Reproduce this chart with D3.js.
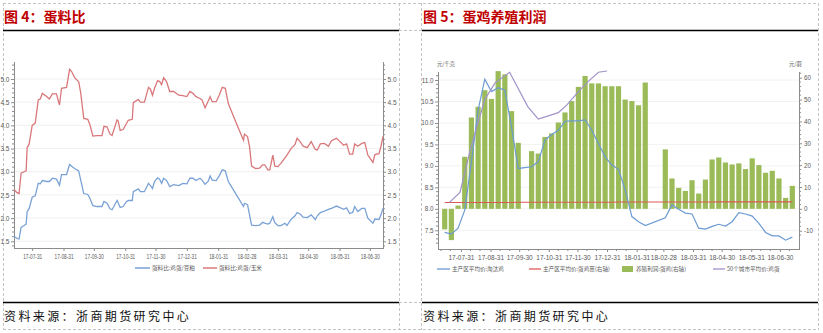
<!DOCTYPE html>
<html><head><meta charset="utf-8">
<script src="https://cdn.jsdelivr.net/npm/d3@7"></script>
<style>
html,body{margin:0;padding:0;background:#fff;}
svg{display:block;}
</style></head>
<body>
<svg id="c" width="823" height="333"></svg>
<script>
// ---------- 图4 蛋料比 ----------
const ratioDates = ["2017-07-13","2017-07-16","2017-07-18","2017-07-20","2017-07-23","2017-07-25","2017-07-26","2017-07-28","2017-07-31","2017-08-03",
"2017-08-06","2017-08-08","2017-08-10","2017-08-14","2017-08-17","2017-08-20","2017-08-24","2017-08-27","2017-08-29","2017-09-03",
"2017-09-06","2017-09-08","2017-09-11","2017-09-15","2017-09-17","2017-09-20","2017-09-24","2017-09-26","2017-09-29","2017-10-03",
"2017-10-08","2017-10-10","2017-10-13","2017-10-16","2017-10-18","2017-10-23","2017-10-24","2017-10-26","2017-10-29","2017-11-01",
"2017-11-03","2017-11-07","2017-11-08","2017-11-13","2017-11-15","2017-11-19","2017-11-23","2017-11-25","2017-11-27","2017-11-29",
"2017-12-02","2017-12-04","2017-12-06","2017-12-08","2017-12-11","2017-12-14","2017-12-18","2017-12-23","2017-12-27","2017-12-31",
"2018-01-03","2018-01-06","2018-01-09","2018-01-13","2018-01-15","2018-01-18","2018-01-21","2018-01-23","2018-01-25","2018-01-29",
"2018-02-01","2018-02-04","2018-02-07","2018-02-10","2018-02-15","2018-02-20","2018-02-25","2018-02-26","2018-03-01","2018-03-03",
"2018-03-05","2018-03-09","2018-03-13","2018-03-16","2018-03-18","2018-03-21","2018-03-23","2018-03-26","2018-03-28","2018-03-31",
"2018-04-03","2018-04-07","2018-04-09","2018-04-13","2018-04-17","2018-04-19","2018-04-22","2018-04-25","2018-04-29","2018-05-03",
"2018-05-07","2018-05-09","2018-05-12","2018-05-16","2018-05-20","2018-05-23","2018-05-28","2018-05-31","2018-06-04","2018-06-07",
"2018-06-10","2018-06-13","2018-06-15","2018-06-18","2018-06-22","2018-06-25","2018-06-28","2018-07-03","2018-07-05","2018-07-09",
"2018-07-11","2018-07-13"];

// 蛋料比:鸡蛋/豆粕
const eggMeal = [1.61,1.56,1.55,1.80,1.84,1.87,2.14,2.21,2.45,2.48,
2.75,2.74,2.81,2.79,2.79,2.86,2.84,2.71,2.94,2.94,
3.16,3.12,3.07,3.02,2.82,2.53,2.51,2.43,2.27,2.25,
2.25,2.36,2.32,2.20,2.18,2.38,2.33,2.23,2.25,2.35,
2.38,2.38,2.57,2.63,2.57,2.57,2.75,2.70,2.64,2.79,
2.87,2.84,2.75,2.86,2.81,2.68,2.72,2.70,2.75,2.74,
2.86,2.86,2.81,2.86,2.82,2.73,2.79,2.91,2.82,2.81,
2.91,3.04,3.02,2.79,2.61,2.43,2.25,2.32,2.29,2.07,
1.85,1.84,1.85,1.91,1.89,1.87,1.89,2.03,1.90,1.84,
1.84,1.89,1.84,1.97,2.05,2.12,2.09,2.02,2.01,2.07,
1.97,2.05,2.12,2.15,2.19,2.21,2.26,2.23,2.19,2.22,
2.10,2.12,2.25,2.14,2.21,2.21,2.00,1.89,1.98,1.97,
2.07,2.21];

// 蛋料比:鸡蛋/玉米
const eggCorn = [2.62,2.55,2.53,2.97,3.00,3.02,3.52,3.60,4.00,4.05,
4.55,4.57,4.69,4.63,4.57,4.68,4.68,4.44,4.80,4.82,
5.21,5.16,5.03,4.94,4.70,4.15,4.13,4.02,3.77,3.78,
3.78,3.98,3.97,3.81,3.78,4.12,4.10,3.89,3.91,4.03,
4.11,4.13,4.49,4.56,4.50,4.50,4.82,4.78,4.65,4.80,
4.96,4.95,4.88,5.03,4.94,4.73,4.73,4.65,4.64,4.62,
4.73,4.69,4.62,4.58,4.55,4.38,4.52,4.62,4.51,4.51,
4.65,4.82,4.80,4.47,4.20,3.94,3.68,3.81,3.76,3.54,
3.12,3.07,3.08,3.15,3.15,3.04,3.04,3.36,3.12,3.11,
3.18,3.30,3.36,3.50,3.59,3.72,3.65,3.55,3.52,3.65,
3.48,3.47,3.60,3.61,3.55,3.67,3.72,3.66,3.57,3.60,
3.38,3.38,3.60,3.55,3.61,3.63,3.36,3.20,3.37,3.39,
3.55,3.76];

const monthTicks = ["2017-07-31","2017-08-31","2017-09-30","2017-10-31","2017-11-30","2017-12-31",
"2018-01-31","2018-02-28","2018-03-31","2018-04-30","2018-05-31","2018-06-30"];
const ratioTicks = [1.5,2.0,2.5,3.0,3.5,4.0,4.5,5.0];

// ---------- 图5 蛋鸡养殖利润 (weekly, Fridays) ----------
const weekDates = ["2017-07-14","2017-07-21","2017-07-28","2017-08-04","2017-08-11","2017-08-18","2017-08-25",
"2017-09-01","2017-09-08","2017-09-15","2017-09-22","2017-09-29","2017-10-06","2017-10-13","2017-10-20","2017-10-27",
"2017-11-03","2017-11-10","2017-11-17","2017-11-24","2017-12-01","2017-12-08","2017-12-15","2017-12-22","2017-12-29",
"2018-01-05","2018-01-12","2018-01-19","2018-01-26","2018-02-02","2018-02-09","2018-02-16","2018-02-23",
"2018-03-02","2018-03-09","2018-03-16","2018-03-23","2018-03-30","2018-04-06","2018-04-13","2018-04-20","2018-04-27",
"2018-05-04","2018-05-11","2018-05-18","2018-05-25","2018-06-01","2018-06-08","2018-06-15","2018-06-22","2018-06-29",
"2018-07-06","2018-07-13"];

// 养殖利润:蛋鸡(右轴) 元/羽
const layerProfit = [-9.4,-14.3,1.5,23.8,41.8,46.7,54.3,50.3,63.0,61.5,44.7,30.2,null,
26.4,25.3,32.9,34.5,39.5,44.1,49.3,55.8,60.8,57.4,57.4,56.1,
56.1,56.1,50.0,49.3,47.4,57.8,null,null,
27.2,13.9,9.6,8.2,13.1,7.0,13.4,22.6,23.5,
21.2,20.3,20.8,18.2,23.1,20.0,16.5,17.4,13.9,
5.0,10.5];

// 主产区平均价:淘汰鸡 元/千克
const cullHen = [7.45,7.41,7.55,7.97,9.10,10.30,11.02,10.73,10.82,10.76,9.90,8.94,null,
8.98,9.10,9.60,9.73,9.83,10.04,10.05,10.05,10.07,9.83,9.52,9.21,
9.02,8.92,8.44,7.82,7.70,7.61,null,null,
7.79,8.09,7.99,7.90,7.88,7.55,7.53,7.59,7.64,
7.60,7.70,7.91,7.88,7.83,7.66,7.45,7.37,7.37,
7.27,7.34];

// 主产区平均价:蛋鸡苗(右轴) 元/羽
const chickPrice = [2.9,2.9,2.9,2.9,2.9,2.9,2.9,2.9,2.9,2.9,2.9,3.0,3.0,
3.0,3.0,3.0,3.0,3.0,3.0,3.0,3.0,3.0,3.0,3.0,3.0,
3.0,3.1,3.1,3.1,3.1,3.1,3.1,3.1,
3.1,3.1,3.1,3.1,3.1,3.1,3.1,3.1,3.2,
3.2,3.2,3.2,3.2,3.2,3.2,3.2,3.2,3.2,
3.2,3.2];

// 50个城市平均价:鸡蛋 元/千克
const cityEggDates = ["2017-07-19","2017-07-30","2017-08-10","2017-08-25","2017-09-05","2017-09-20","2017-10-09",
"2017-10-20","2017-11-10","2017-11-19","2017-12-01","2017-12-12","2017-12-22","2017-12-31"];
const cityEgg = [8.15,8.38,9.39,10.55,10.94,11.18,10.38,10.09,10.24,10.42,10.73,10.98,11.18,11.21];

const priceTicks = [7.5,8.0,8.5,9.0,9.5,10.0,10.5,11.0];
const profitTicks = [-10,0,10,20,30,40,50,60];

// ---------- drawing ----------
const parse = d3.timeParse("%Y-%m-%d");
const svg = d3.select("#c");
const NUM = "'Liberation Sans', Arial, sans-serif";
const CJK = "'Noto Sans CJK SC', 'Noto Sans', sans-serif";
const AXIS = "#8c8c8c", LABEL = "#595959";

function line(g, x1, y1, x2, y2, stroke, w, dash) {
  const l = g.append("line").attr("x1", x1).attr("y1", y1).attr("x2", x2).attr("y2", y2)
    .attr("stroke", stroke).attr("stroke-width", w);
  if (dash) l.attr("stroke-dasharray", dash);
  return l;
}

// page frame: dashed cell borders, title and source rules
const frame = svg.append("g");
const DASH = "#c4c4c4";
line(frame, 3, 3.5, 818, 3.5, DASH, 1, "3,2");
line(frame, 3, 329.5, 818, 329.5, DASH, 1, "3,2");
[3.5, 399.5, 421.5, 818.5].forEach(x => line(frame, x, 3, x, 330, DASH, 1, "3,2"));
line(frame, 399, 30.5, 421, 30.5, DASH, 1, "3,2");
line(frame, 399, 302.5, 421, 302.5, DASH, 1, "3,2");

[[3, 399, "图 4：蛋料比"], [422, 818, "图 5：蛋鸡养殖利润"]].forEach(([x0, x1, title]) => {
  frame.append("text").attr("x", x0 + 1).attr("y", 21.5).text(title)
    .attr("font-family", CJK).attr("font-size", 14).attr("font-weight", "bold").attr("fill", "#C00000");
  line(frame, x0, 30.5, x1, 30.5, "#000", 1.6);
  line(frame, x0, 302.5, x1, 302.5, "#000", 1.6);
  frame.append("text").attr("x", x0 + 1).attr("y", 320.5).text("资料来源：浙商期货研究中心")
    .attr("font-family", CJK).attr("font-size", 12).attr("letter-spacing", 2.4).attr("fill", "#111");
});

function styleAxis(g, size) {
  g.select(".domain").remove();
  g.selectAll(".tick line").attr("stroke", AXIS);
  g.selectAll(".tick text").attr("font-family", NUM).attr("font-size", size).attr("fill", LABEL);
}

function minorTicks(g, scale, vals, x, len) {
  vals.forEach(v => line(g, x, scale(v), x + len, scale(v), AXIS, 1));
}

// ===== 图4 =====
{
  const g = svg.append("g");
  const X0 = 14, X1 = 383, YT = 62, YB = 248;
  const x = d3.scaleTime().domain([parse("2017-07-13"), parse("2018-07-13")]).range([X0, X1]);
  const y = d3.scaleLinear().domain([1.5, 5.0]).range([241.3, 79]);

  // grid
  ratioTicks.forEach(v => line(g, X0, y(v), X1, y(v), "#f0f0f0", 1));

  // axes
  const minors = d3.range(14, 54).map(i => i / 10).filter(v => ratioTicks.indexOf(v) < 0);
  const gl = g.append("g").attr("transform", `translate(${X0},0)`)
    .call(d3.axisLeft(y).tickValues(ratioTicks).tickFormat(d3.format(".1f")).tickSize(3).tickPadding(1.5));
  styleAxis(gl, 6.5);
  minorTicks(g, y, minors, X0 - 2, 2);
  const gr = g.append("g").attr("transform", `translate(${X1},0)`)
    .call(d3.axisRight(y).tickValues(ratioTicks).tickFormat(d3.format(".1f")).tickSize(3).tickPadding(1.5));
  styleAxis(gr, 6.5);
  minorTicks(g, y, minors, X1, 2);
  const gb = g.append("g").attr("transform", `translate(0,${YB})`)
    .call(d3.axisBottom(x).tickValues(monthTicks.map(parse)).tickFormat(d3.timeFormat("%y-%m-%d")).tickSize(3).tickPadding(3));
  styleAxis(gb, 6.5);
  gb.selectAll(".tick text").attr("textLength", 19).attr("lengthAdjust", "spacingAndGlyphs");
  line(g, X0 + 0.5, YT, X0 + 0.5, YB, AXIS, 1);
  line(g, X1 + 0.5, YT, X1 + 0.5, YB, AXIS, 1);
  line(g, X0, YB + 0.5, X1 + 1, YB + 0.5, AXIS, 1);

  const dates = ratioDates.map(parse);
  const path = vals => d3.line().x((d, i) => x(dates[i])).y(d => y(d))(vals);
  g.append("path").attr("d", path(eggCorn)).attr("fill", "none").attr("stroke", "#D9787B").attr("stroke-width", 1.3);
  g.append("path").attr("d", path(eggMeal)).attr("fill", "none").attr("stroke", "#7AA2D6").attr("stroke-width", 1.3);

  // legend
  const lg = g.append("g").attr("font-family", CJK).attr("font-size", 5.6).attr("fill", LABEL);
  line(lg, 135, 268, 150, 268, "#7AA2D6", 1.5);
  lg.append("text").attr("x", 152).attr("y", 270).text("蛋料比:鸡蛋/豆粕");
  line(lg, 203, 268, 217, 268, "#D9787B", 1.5);
  lg.append("text").attr("x", 219).attr("y", 270).text("蛋料比:鸡蛋/玉米");
}

// ===== 图5 =====
{
  const g = svg.append("g");
  const X0 = 438, X1 = 799, YT = 72, YB = 249;
  const x = d3.scaleTime().domain([parse("2017-07-07"), parse("2018-07-20")]).range([X0, X1]);
  const yL = d3.scaleLinear().domain([7.5, 11.0]).range([230.3, 80]);
  const yR = d3.scaleLinear().domain([-10, 60]).range([230.7, 77.7]);

  priceTicks.forEach(v => line(g, X0, yL(v), X1, yL(v), "#f2f2f2", 1));

  const gl = g.append("g").attr("transform", `translate(${X0},0)`)
    .call(d3.axisLeft(yL).tickValues(priceTicks).tickFormat(d3.format(".1f")).tickSize(3).tickPadding(1.5));
  styleAxis(gl, 6.3);
  minorTicks(g, yL, d3.range(72, 112).map(i => i / 10).filter(v => priceTicks.indexOf(v) < 0), X0 - 2, 2);
  const gr = g.append("g").attr("transform", `translate(${X1},0)`)
    .call(d3.axisRight(yR).tickValues(profitTicks).tickFormat(d => String(d)).tickSize(3).tickPadding(2));
  styleAxis(gr, 6.3);
  minorTicks(g, yR, d3.range(-12, 63, 2).filter(v => profitTicks.indexOf(v) < 0), X1, 2);

  const gb = g.append("g").attr("transform", `translate(0,${YB})`)
    .call(d3.axisBottom(x).tickValues(monthTicks.map(parse)).tickFormat(d3.timeFormat("%y-%m-%d")).tickSize(3).tickPadding(3));
  styleAxis(gb, 6.5);
  // ten-day minor ticks
  const months = d3.timeMonth.range(parse("2017-07-01"), parse("2018-08-01"));
  months.forEach(m => [10, 20].forEach(dd => {
    const t = new Date(m.getFullYear(), m.getMonth(), dd);
    const px = x(t);
    if (px > X0 && px < X1) line(g, px, YB, px, YB + 2, AXIS, 1);
  }));
  line(g, X0 + 0.5, YT, X0 + 0.5, YB, AXIS, 1);
  line(g, X1 + 0.5, YT, X1 + 0.5, YB, AXIS, 1);
  line(g, X0, YB + 0.5, X1 + 1, YB + 0.5, AXIS, 1);

  // units
  g.append("text").attr("x", 437).attr("y", 66).text("元/千克")
    .attr("font-family", CJK).attr("font-size", 5.3).attr("fill", LABEL);
  g.append("text").attr("x", 789).attr("y", 66).text("元/羽")
    .attr("font-family", CJK).attr("font-size", 5.3).attr("fill", LABEL);

  const wd = weekDates.map(parse);
  // profit bars
  g.append("g").selectAll("rect")
    .data(layerProfit.map((v, i) => ({ v, t: wd[i] })).filter(d => d.v !== null))
    .join("rect")
    .attr("x", d => x(d.t) - 2.6).attr("width", 5.2)
    .attr("y", d => Math.min(yR(0), yR(d.v)))
    .attr("height", d => Math.abs(yR(d.v) - yR(0)))
    .attr("fill", "#9BBB59");

  const mk = (vals, dates, sc) => d3.line().x(d => x(d.t)).y(d => sc(d.v))(
    vals.map((v, i) => ({ v, t: dates[i] })).filter(d => d.v !== null));
  g.append("path").attr("d", mk(chickPrice, wd, yR)).attr("fill", "none").attr("stroke", "#DA5A57").attr("stroke-width", 1.1);
  g.append("path").attr("d", mk(cullHen, wd, yL)).attr("fill", "none").attr("stroke", "#6C9BD2").attr("stroke-width", 1.2);
  g.append("path").attr("d", mk(cityEgg, cityEggDates.map(parse), yL)).attr("fill", "none").attr("stroke", "#A192C9").attr("stroke-width", 1.2);

  // legend
  const lg = g.append("g").attr("font-family", CJK).attr("font-size", 5.6).attr("fill", LABEL);
  line(lg, 437, 269, 450, 269, "#6C9BD2", 1.3);
  lg.append("text").attr("x", 452).attr("y", 271).text("主产区平均价:淘汰鸡");
  line(lg, 529, 269, 541, 269, "#DA5A57", 1.3);
  lg.append("text").attr("x", 543).attr("y", 271).text("主产区平均价:蛋鸡苗(右轴)");
  lg.append("rect").attr("x", 622).attr("y", 266).attr("width", 11).attr("height", 6).attr("fill", "#9BBB59");
  lg.append("text").attr("x", 636).attr("y", 271).text("养殖利润:蛋鸡(右轴)");
  line(lg, 713, 269, 725, 269, "#A192C9", 1.3);
  lg.append("text").attr("x", 727).attr("y", 271).text("50个城市平均价:鸡蛋");
}
</script>
</body></html>
